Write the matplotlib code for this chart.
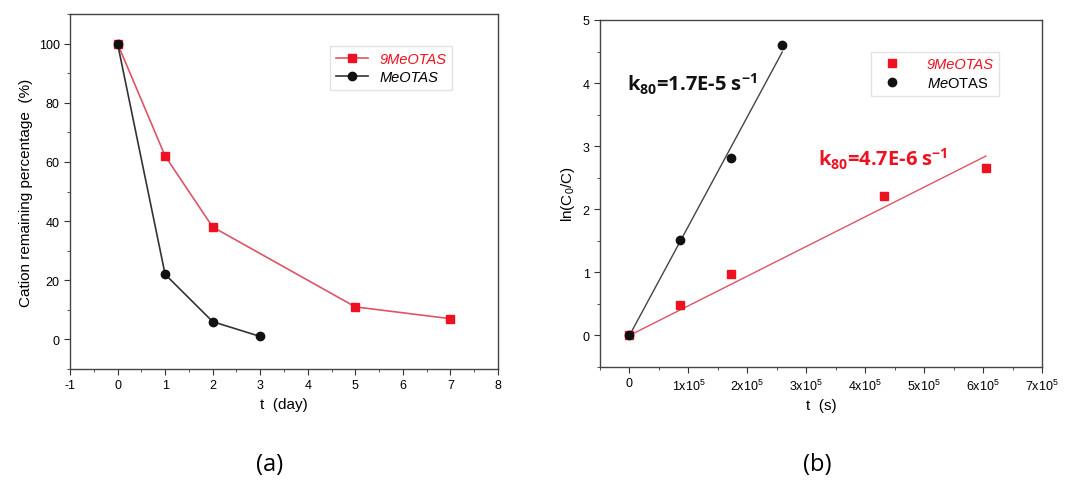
import numpy as np
import matplotlib
matplotlib.use("Agg")
import matplotlib.pyplot as plt
from matplotlib.ticker import MultipleLocator, FuncFormatter

plt.rcParams['font.family'] = ['Liberation Sans', 'DejaVu Sans']
plt.rcParams['axes.unicode_minus'] = False
plt.rcParams['mathtext.fontset'] = 'custom'
plt.rcParams['mathtext.rm'] = 'Liberation Sans'
plt.rcParams['mathtext.it'] = 'Liberation Sans:italic'
plt.rcParams['mathtext.bf'] = 'Open Sans:bold'

# data: remaining cation percentage vs time (days)
days_9me = [0, 1, 2, 5, 7]
pct_9me = [100, 62, 38, 11, 7]
days_me = [0, 1, 2, 3]
pct_me = [100, 22, 6, 1]

# data for the kinetic plot: ln(C0/C) vs time (s)
t_9me = [0, 86400, 172800, 432000, 604800]
lnc_9me = [0, 0.48, 0.97, 2.21, 2.66]
t_me = [0, 86400, 172800, 259200]
lnc_me = [0, 1.51, 2.81, 4.61]

RED = '#ee1122'
RED_LINE = '#dd5566'
BLACK = '#111111'


def style_axis(ax):
    ax.tick_params(which='both', direction='out', top=False, right=False,
                   labelsize=9, color='#333333')
    ax.tick_params(which='major', length=4)
    ax.tick_params(which='minor', length=2.5)
    for s in ax.spines.values():
        s.set_linewidth(1.0)
        s.set_color('#444444')


fig = plt.figure(figsize=(10.85, 4.81), dpi=100)
ax1 = fig.add_axes([70 / 1085, 1 - 370 / 481, 428 / 1085, 355 / 481])
ax2 = fig.add_axes([600 / 1085, 1 - 368 / 481, 442 / 1085, 347 / 481])

# (a)
ax1.plot(days_9me, pct_9me, color=RED_LINE, lw=1.2, marker='s', ms=5.5,
         mfc=RED, mec=RED, label='9MeOTAS')
ax1.plot(days_me, pct_me, color='#333333', lw=1.2, marker='o', ms=6,
         mfc=BLACK, mec=BLACK, label='MeOTAS')
ax1.set_xlim(-1, 8)
ax1.set_ylim(-10, 110)
ax1.xaxis.set_major_locator(MultipleLocator(1))
ax1.xaxis.set_minor_locator(MultipleLocator(0.5))
ax1.yaxis.set_major_locator(MultipleLocator(20))
ax1.yaxis.set_minor_locator(MultipleLocator(10))
ax1.set_xlabel('t  (day)', fontsize=11)
ax1.set_ylabel('Cation remaining percentage  (%)', fontsize=11)
style_axis(ax1)
leg1 = ax1.legend(loc='upper right', bbox_to_anchor=(0.91, 0.93), fontsize=10.5,
                  frameon=True, fancybox=False, edgecolor='#dddddd',
                  handlelength=2.2, borderpad=0.4, labelspacing=0.3)
leg1.get_texts()[0].set_color(RED)
for t in leg1.get_texts():
    t.set_style('italic')

# (b)
ax2.plot(t_9me, lnc_9me, 's', ms=5.5, color=RED, label='9MeOTAS')
ax2.plot(t_me, lnc_me, 'o', ms=6, color=BLACK, label=r'$\mathit{Me}$OTAS')

# linear fits through origin
x9 = np.array(t_9me, float)
y9 = np.array(lnc_9me, float)
xm = np.array(t_me, float)
ym = np.array(lnc_me, float)
k9 = (x9 * y9).sum() / (x9 ** 2).sum()
km = (xm * ym).sum() / (xm ** 2).sum()
xx9 = np.array([0, x9.max()])
xxm = np.array([0, xm.max()])
ax2.plot(xx9, k9 * xx9, color=RED_LINE, lw=1.0, zorder=1)
ax2.plot(xxm, km * xxm, color='#444444', lw=1.0, zorder=1)

ax2.set_xlim(-0.5e5, 7e5)
ax2.set_ylim(-0.5, 5)
ax2.xaxis.set_major_locator(MultipleLocator(1e5))
ax2.xaxis.set_minor_locator(MultipleLocator(0.5e5))
ax2.yaxis.set_major_locator(MultipleLocator(1))
ax2.yaxis.set_minor_locator(MultipleLocator(0.5))


def sci_fmt(v, pos):
    n = int(round(v / 1e5))
    if n == 0:
        return '0'
    return '%dx10$^5$' % n


ax2.xaxis.set_major_formatter(FuncFormatter(sci_fmt))
ax2.set_xlabel('t  (s)', fontsize=11)
ax2.set_ylabel(r'ln(C$_0$/C)', fontsize=11)
style_axis(ax2)

ax2.text(-0.05e5, 4.0, r'k$_{\mathbf{80}}$=1.7E-5 s$^{\mathbf{-1}}$', fontsize=14.5,
         fontweight='bold', color=BLACK, va='center',
         family=['Open Sans', 'DejaVu Sans'])
ax2.text(3.2e5, 2.8, r'k$_{\mathbf{80}}$=4.7E-6 s$^{\mathbf{-1}}$', fontsize=14.5,
         fontweight='bold', color=RED, va='center',
         family=['Open Sans', 'DejaVu Sans'])

leg2 = ax2.legend(loc='upper right', bbox_to_anchor=(0.92, 0.93), fontsize=10.5,
                  frameon=True, fancybox=False, edgecolor='#dddddd',
                  handlelength=2.0, handletextpad=1.4, borderpad=0.4,
                  labelspacing=0.3)
leg2.get_texts()[0].set_color(RED)
leg2.get_texts()[0].set_style('italic')

fig.text(270 / 1085, 1 - 465 / 481, '(a)', fontsize=17, ha='center', va='center',
         family=['Open Sans', 'DejaVu Sans'])
fig.text(817 / 1085, 1 - 465 / 481, '(b)', fontsize=17, ha='center', va='center',
         family=['Open Sans', 'DejaVu Sans'])

fig.savefig('out.png', dpi=100)
